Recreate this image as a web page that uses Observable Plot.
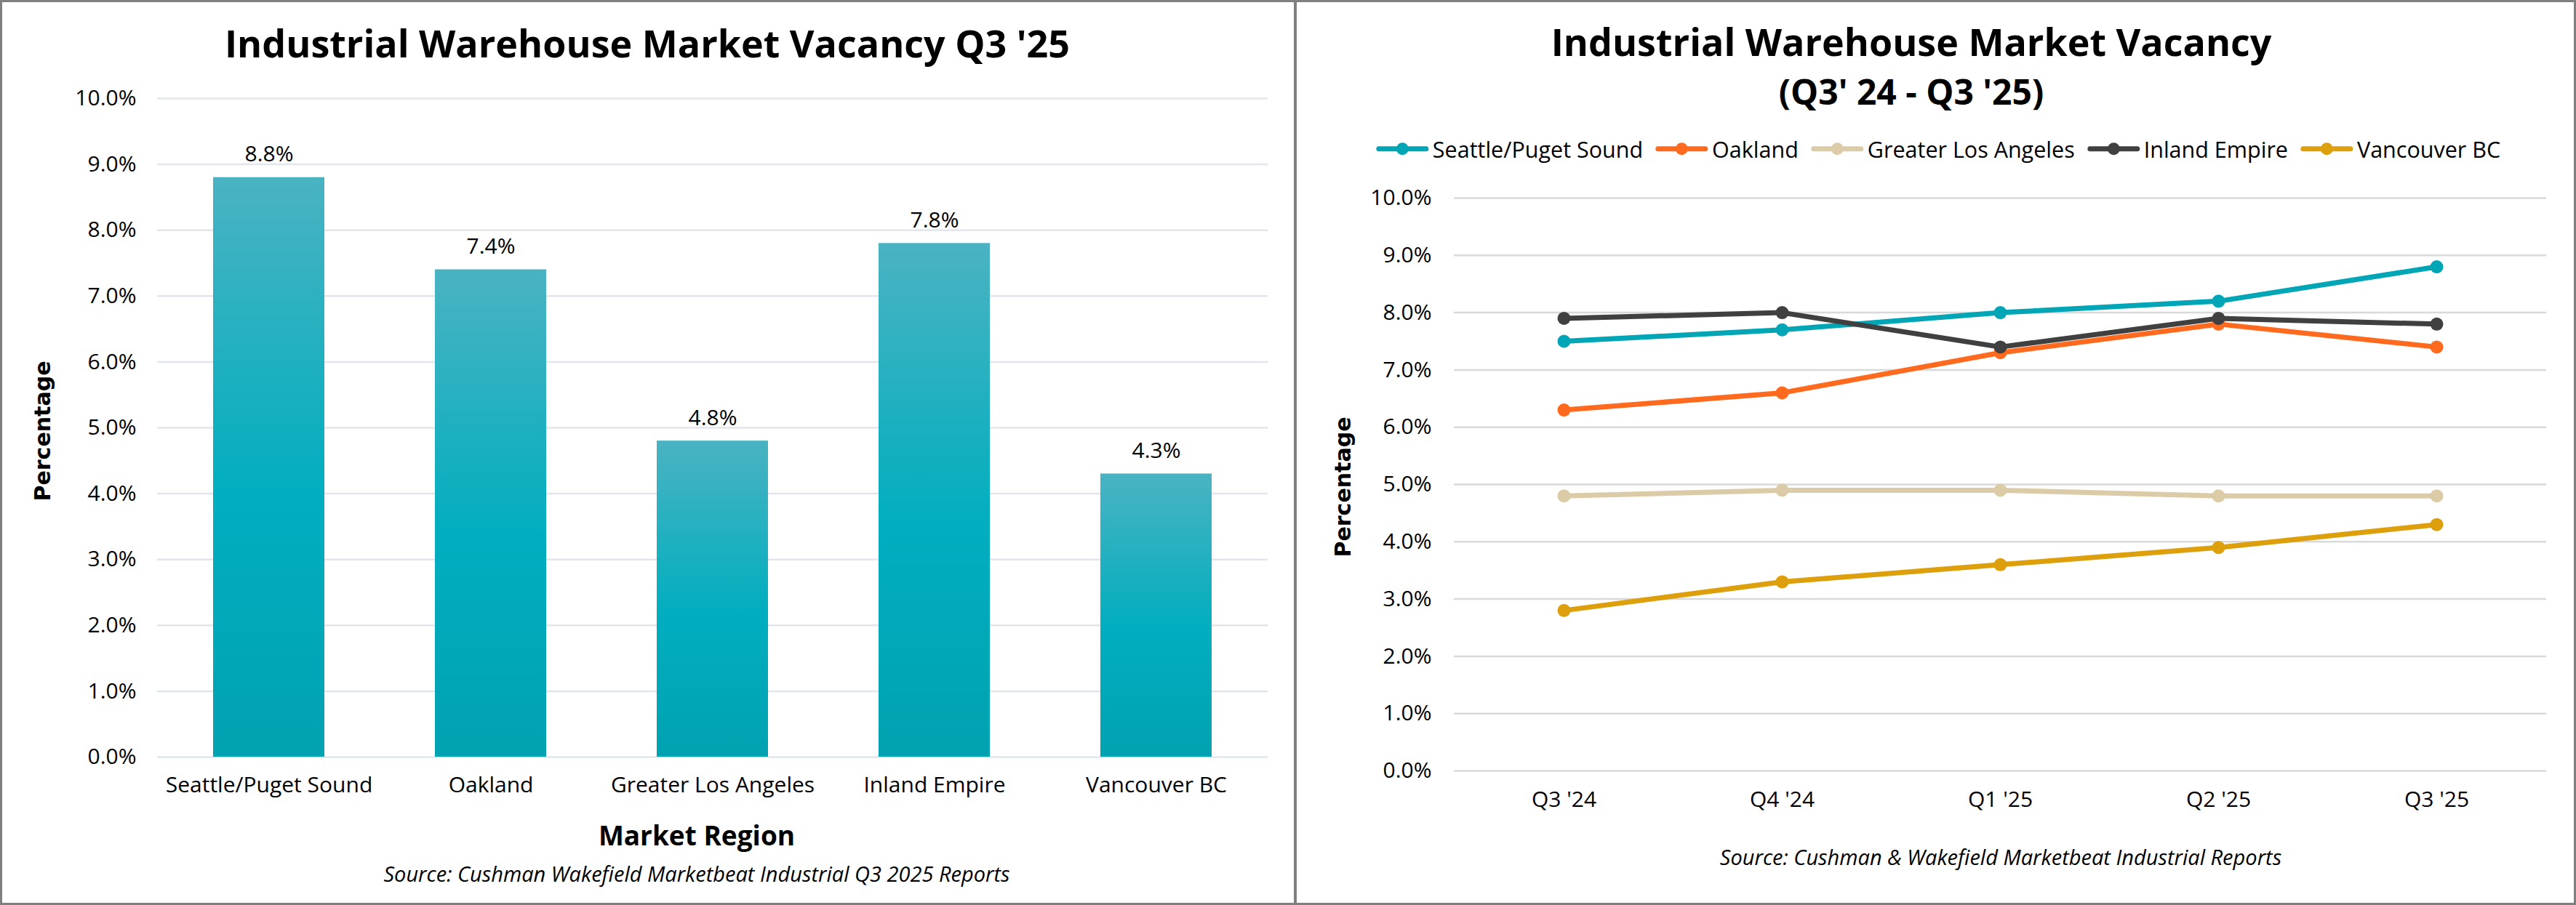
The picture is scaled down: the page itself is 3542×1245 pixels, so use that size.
<!DOCTYPE html>
<html>
<head>
<meta charset="utf-8">
<script src="https://cdn.jsdelivr.net/npm/d3@7"></script>
<script src="https://cdn.jsdelivr.net/npm/@observablehq/plot@0.6"></script>
<style>
  html, body { margin: 0; padding: 0; background: #fff; }
  #root { position: relative; width: 3542px; height: 1245px; overflow: hidden; font-family: "Open Sans", sans-serif; color: #000; background: #fff; }
  .frame { position: absolute; left: 0; top: 0; width: 3542px; height: 1245px; box-sizing: border-box; border: 3px solid #7f7f7f; pointer-events: none; }
  .divider { position: absolute; left: 1779px; top: 0; width: 4px; height: 1245px; background: #7f7f7f; }
  .abs { position: absolute; white-space: nowrap; line-height: 1; }
  .title { font-weight: 700; font-size: 52px; transform: translateX(-50%); }
  .title.sub { font-size: 48px; }
  .axtitle { font-weight: 700; font-size: 37px; transform: translateX(-50%); }
  .source { font-style: italic; font-size: 29px; transform: translateX(-50%); }
  .ytitle { font-family: "DejaVu Sans", sans-serif; font-weight: 700; font-size: 30px; transform: translate(-50%, -50%) rotate(-90deg); }
  .legend { position: absolute; display: flex; align-items: center; transform: translate(-50%, -50%); white-space: nowrap; font-size: 30.5px; line-height: 1; }
  .legend .item { display: flex; align-items: center; margin-right: 17px; }
  .legend .item:last-child { margin-right: 0; }
  .legend svg { margin-right: 5px; }
  svg.plot { position: absolute; }
</style>
</head>
<body>
<div id="root"></div>
<script>
// ---------- data ----------
const regions = ["Seattle/Puget Sound", "Oakland", "Greater Los Angeles", "Inland Empire", "Vancouver BC"];
const vacancyQ3_25 = [8.8, 7.4, 4.8, 7.8, 4.3];

const quarters = ["Q3 '24", "Q4 '24", "Q1 '25", "Q2 '25", "Q3 '25"];
const seattle   = [7.5, 7.7, 8.0, 8.2, 8.8];
const oakland   = [6.3, 6.6, 7.3, 7.8, 7.4];
const greaterLA = [4.8, 4.9, 4.9, 4.8, 4.8];
const inland    = [7.9, 8.0, 7.4, 7.9, 7.8];
const vancouver = [2.8, 3.3, 3.6, 3.9, 4.3];

const seriesColors = ["#00A6B6", "#FF6A1F", "#DCCBA7", "#404040", "#DDA00C"];
const yTicks = [0, 1, 2, 3, 4, 5, 6, 7, 8, 9, 10];
const pct = d => d.toFixed(1) + "%";

const root = document.getElementById("root");
function addDiv(cls, text, left, top) {
  const d = document.createElement("div");
  d.className = "abs " + cls;
  d.textContent = text;
  d.style.left = left + "px";
  d.style.top = top + "px";
  root.appendChild(d);
  return d;
}

// ---------- left chart ----------
const barData = regions.map((r, i) => ({region: r, value: vacancyQ3_25[i]}));
const leftSvg = Plot.plot({
  width: 1780, height: 1130,
  marginLeft: 216, marginRight: 37, marginTop: 135, marginBottom: 89,
  style: {fontFamily: '"Open Sans", sans-serif', fontSize: "30px", color: "#000", background: "transparent", overflow: "visible"},
  x: {domain: regions, paddingInner: 0.5, paddingOuter: 0.25, label: null, tickSize: 0, tickPadding: 27},
  y: {domain: [0, 10], ticks: yTicks, tickFormat: pct, label: null, tickSize: 0, tickPadding: 29},
  marks: [
    Plot.ruleY(yTicks, {stroke: "#E2E6EC", strokeWidth: 2.5}),
    Plot.barY(barData, {x: "region", y: "value", fill: "url(#barGrad)"}),
    Plot.text(barData, {x: "region", y: "value", text: d => pct(d.value), dy: -22, lineAnchor: "bottom", fontSize: 30, fill: "#000"})
  ]
});
leftSvg.classList.add("plot");
leftSvg.style.left = "0px";
leftSvg.style.top = "0px";
const defs = d3.select(leftSvg).insert("defs", ":first-child");
const grad = defs.append("linearGradient").attr("id", "barGrad").attr("x1", 0).attr("y1", 0).attr("x2", 0).attr("y2", 1);
grad.append("stop").attr("offset", "0%").attr("stop-color", "#4AB3C2");
grad.append("stop").attr("offset", "55%").attr("stop-color", "#00AEBF");
grad.append("stop").attr("offset", "100%").attr("stop-color", "#00A2B1");
root.appendChild(leftSvg);

addDiv("title", "Industrial Warehouse Market Vacancy Q3 '25", 890, 33);
addDiv("axtitle", "Market Region", 958, 1130);
addDiv("source", "Source: Cushman Wakefield Marketbeat Industrial Q3 2025 Reports", 958, 1187);
addDiv("ytitle", "Percentage", 59, 593);

// ---------- right chart ----------
const seriesValues = [seattle, oakland, greaterLA, inland, vancouver];
const lineData = regions.flatMap((s, i) => quarters.map((q, j) => ({series: s, quarter: q, value: seriesValues[i][j]})));
const rightSvg = Plot.plot({
  width: 1756, height: 1150,
  marginLeft: 216, marginRight: 38, marginTop: 272, marginBottom: 90,
  style: {fontFamily: '"Open Sans", sans-serif', fontSize: "30px", color: "#000", background: "transparent", overflow: "visible"},
  x: {type: "point", domain: quarters, padding: 0.5, label: null, tickSize: 0, tickPadding: 28},
  y: {domain: [0, 10], ticks: yTicks, tickFormat: pct, label: null, tickSize: 0, tickPadding: 31},
  color: {domain: regions, range: seriesColors},
  marks: [
    Plot.ruleY(yTicks, {stroke: "#D9D9D9", strokeWidth: 2.5}),
    ...regions.flatMap(s => {
      const rows = lineData.filter(d => d.series === s);
      return [
        Plot.line(rows, {x: "quarter", y: "value", stroke: "series", strokeWidth: 7, strokeLinejoin: "round", strokeLinecap: "round"}),
        Plot.dot(rows, {x: "quarter", y: "value", fill: "series", r: 9})
      ];
    })
  ]
});
rightSvg.classList.add("plot");
rightSvg.style.left = "1783px";
rightSvg.style.top = "0px";
root.appendChild(rightSvg);

addDiv("title", "Industrial Warehouse Market Vacancy", 2628, 31);
addDiv("title sub", "(Q3' 24 - Q3 '25)", 2628, 102);

addDiv("source", "Source: Cushman & Wakefield Marketbeat Industrial Reports", 2751, 1164);
addDiv("ytitle", "Percentage", 1847, 670);

// legend
const legend = document.createElement("div");
legend.className = "legend";
legend.style.left = "2665px";
legend.style.top = "205px";
regions.forEach((s, i) => {
  const item = document.createElement("div");
  item.className = "item";
  const c = seriesColors[i];
  item.innerHTML = `<svg width="73" height="20" viewBox="0 0 73 20"><line x1="4" y1="10" x2="69" y2="10" stroke="${c}" stroke-width="7" stroke-linecap="round"/><circle cx="36.5" cy="10" r="8.5" fill="${c}"/></svg><span>${s}</span>`;
  legend.appendChild(item);
});
root.appendChild(legend);

// frame
const div = document.createElement("div"); div.className = "divider"; root.appendChild(div);
const frame = document.createElement("div"); frame.className = "frame"; root.appendChild(frame);
</script>
</body>
</html>
